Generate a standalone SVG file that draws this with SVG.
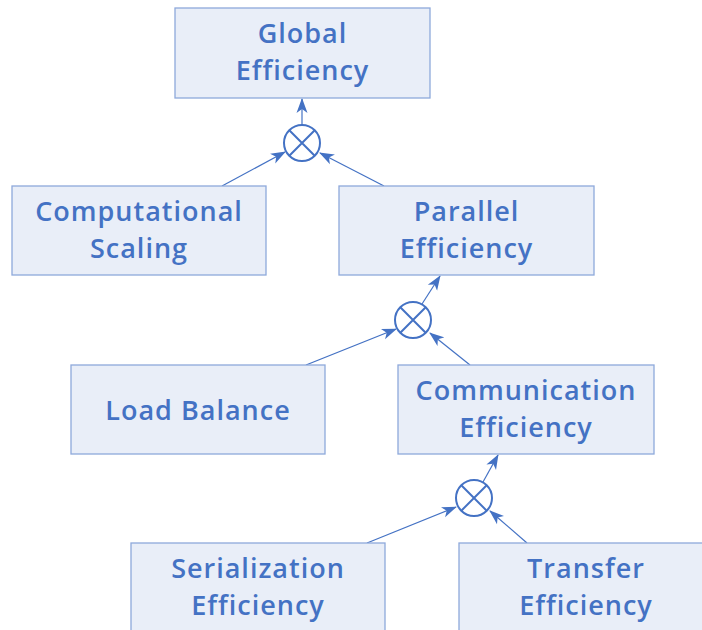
<svg xmlns="http://www.w3.org/2000/svg" width="702" height="630" viewBox="0 0 702 630">
  <defs>
    <marker id="arrow" viewBox="0 0 15 12" refX="14" refY="6" markerWidth="15" markerHeight="12" markerUnits="userSpaceOnUse" orient="auto">
      <path d="M0,0.5 L15,6 L0,11.5 L4,6 Z" fill="#4472C4"/>
    </marker>
    <style>
      .box { fill: #E9EEF8; stroke: #8EA9DB; stroke-width: 1.3; }
      .lbl { font-family: "Open Sans", "Liberation Sans", Arial, sans-serif; font-weight: 600; font-size: 27px; fill: #4472C4; text-anchor: middle; letter-spacing: 1px; }
      .edge { stroke: #4472C4; stroke-width: 1.2; fill: none; marker-end: url(#arrow); }
      .op circle { fill: #ffffff; stroke: #4472C4; stroke-width: 2; }
      .op path { stroke: #4472C4; stroke-width: 2; fill: none; }
    </style>
  </defs>

  <!-- connectors -->
  <g id="connectors">
    <path class="edge" d="M302,125 L302,99"/>
    <path class="edge" d="M222,186 L285,152"/>
    <path class="edge" d="M384,186 L320,153"/>
    <path class="edge" d="M422,304 L440,276"/>
    <path class="edge" d="M306,365 L396,329"/>
    <path class="edge" d="M470,365 L430,333"/>
    <path class="edge" d="M483,482 L498,455"/>
    <path class="edge" d="M367,543 L456,507"/>
    <path class="edge" d="M527,543 L490,511"/>
  </g>

  <!-- product operators -->
  <g id="op1" class="op">
    <circle cx="302" cy="143" r="18"/>
    <path d="M289.3,130.3 L314.7,155.7 M314.7,130.3 L289.3,155.7"/>
  </g>
  <g id="op2" class="op">
    <circle cx="413" cy="320" r="18"/>
    <path d="M400.3,307.3 L425.7,332.7 M425.7,307.3 L400.3,332.7"/>
  </g>
  <g id="op3" class="op">
    <circle cx="474" cy="498" r="18"/>
    <path d="M461.3,485.3 L486.7,510.7 M486.7,485.3 L461.3,510.7"/>
  </g>

  <!-- nodes -->
  <g id="global">
    <rect class="box" x="175" y="8" width="255" height="90"/>
    <text class="lbl" x="302.5" y="43">Global</text>
    <text class="lbl" x="302.5" y="80">Efficiency</text>
  </g>
  <g id="computational">
    <rect class="box" x="12" y="186" width="254" height="89"/>
    <text class="lbl" x="139" y="221">Computational</text>
    <text class="lbl" x="139" y="258">Scaling</text>
  </g>
  <g id="parallel">
    <rect class="box" x="339" y="186" width="255" height="89"/>
    <text class="lbl" x="466.5" y="221">Parallel</text>
    <text class="lbl" x="466.5" y="258">Efficiency</text>
  </g>
  <g id="load">
    <rect class="box" x="71" y="365" width="254" height="89"/>
    <text class="lbl" x="198" y="420">Load Balance</text>
  </g>
  <g id="communication">
    <rect class="box" x="398" y="365" width="256" height="89"/>
    <text class="lbl" x="526" y="400">Communication</text>
    <text class="lbl" x="526" y="437">Efficiency</text>
  </g>
  <g id="serialization">
    <rect class="box" x="131" y="543" width="254" height="100"/>
    <text class="lbl" x="258" y="578">Serialization</text>
    <text class="lbl" x="258" y="615">Efficiency</text>
  </g>
  <g id="transfer">
    <rect class="box" x="459" y="543" width="254" height="100"/>
    <text class="lbl" x="586" y="578">Transfer</text>
    <text class="lbl" x="586" y="615">Efficiency</text>
  </g>
</svg>
